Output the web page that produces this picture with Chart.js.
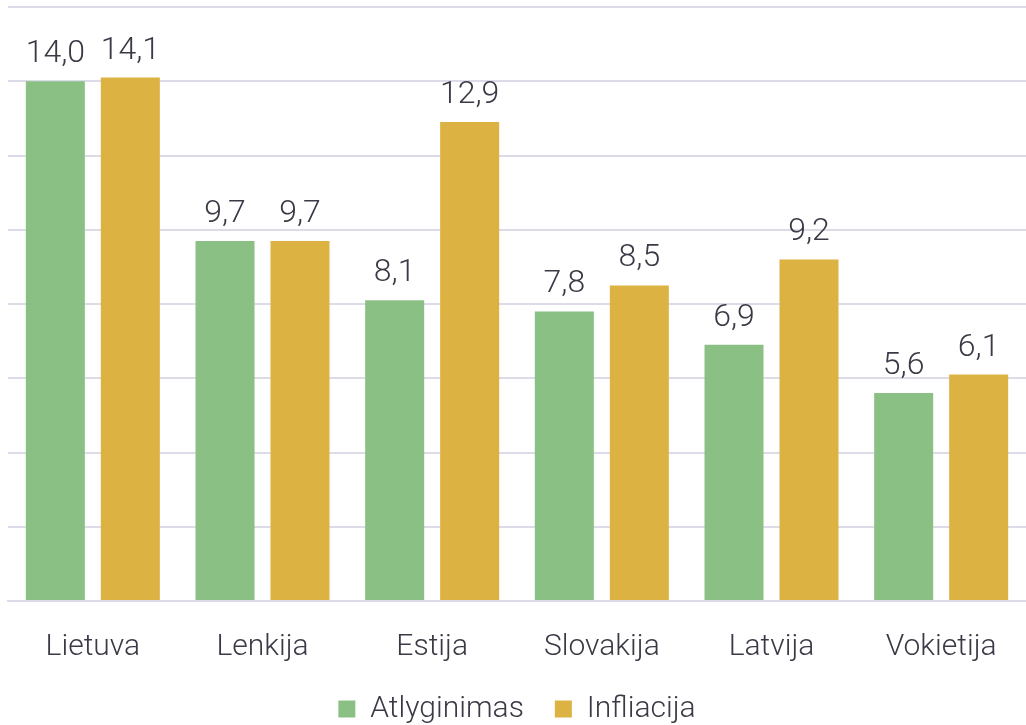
<!DOCTYPE html>
<html>
<head>
<meta charset="utf-8">
<script src="https://cdn.jsdelivr.net/npm/chart.js@4/dist/chart.umd.min.js"></script>
<style>
html,body{margin:0;padding:0;background:#fff;}
#wrap{width:1026px;height:725px;position:relative;}
</style>
</head>
<body>
<div id="wrap"><canvas id="c"></canvas></div>
<script>
const categories = ['Lietuva','Lenkija','Estija','Slovakija','Latvija','Vokietija'];
const atlyginimas = [14.0, 9.7, 8.1, 7.8, 6.9, 5.6];
const infliacija = [14.1, 9.7, 12.9, 8.5, 9.2, 6.1];
const seriesNames = ['Atlyginimas','Infliacija'];

const FONT = "Roboto, 'Open Sans', sans-serif";
const TEXT = '#3a3a46';

const labelPlugin = {
  id: 'valueLabels',
  afterDatasetsDraw(chart) {
    const ctx = chart.ctx;
    ctx.save();
    ctx.font = '300 32px ' + FONT;
    ctx.fillStyle = TEXT;
    ctx.textAlign = 'center';
    ctx.textBaseline = 'alphabetic';
    chart.data.datasets.forEach((ds, i) => {
      chart.getDatasetMeta(i).data.forEach((bar, j) => {
        ctx.fillText(ds.data[j].toFixed(1).replace('.', ','), bar.x, bar.y - 19);
      });
    });
    ctx.restore();
  }
};

new Chart(document.getElementById('c'), {
  type: 'bar',
  data: {
    labels: categories,
    datasets: [
      {label: seriesNames[0], data: atlyginimas, backgroundColor: '#8ac084'},
      {label: seriesNames[1], data: infliacija, backgroundColor: '#dcb242'}
    ]
  },
  options: {
    responsive: true,
    maintainAspectRatio: false,
    animation: false,
    devicePixelRatio: 1,
    layout: {padding: {left: 8, right: 0, top: 7, bottom: 0}},
    datasets: {bar: {categoryPercentage: 0.884, barPercentage: 0.787}},
    plugins: {
      legend: {
        position: 'bottom',
        maxHeight: 62,
        labels: {
          boxWidth: 17, boxHeight: 17, padding: 31,
          color: TEXT,
          font: {family: FONT, size: 30, weight: '300'}
        }
      },
      tooltip: {enabled: false}
    },
    scales: {
      x: {
        grid: {display: false},
        border: {display: true, color: '#dcdce8', width: 2},
        ticks: {color: TEXT, padding: 20, font: {family: FONT, size: 30, weight: '300'}},
        afterFit(scale) { scale.height = 62; }
      },
      y: {
        min: 0, max: 16,
        ticks: {display: false, stepSize: 2},
        border: {display: false},
        grid: {color: '#dcdce8', lineWidth: 2, drawTicks: false}
      }
    }
  },
  plugins: [labelPlugin]
});
</script>
</body>
</html>
